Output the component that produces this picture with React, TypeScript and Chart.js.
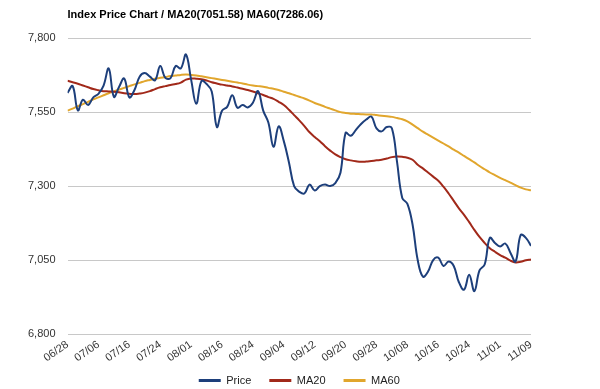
import React, { useEffect, useRef } from "react";
import { Chart, registerables } from "chart.js";

Chart.register(...registerables);

const tickLabels = ["06/28","07/06","07/16","07/24","08/01","08/16","08/24","09/04","09/12","09/20","09/28","10/08","10/16","10/24","11/01","11/09"];

const price = [7615,7638,7556,7592,7574,7600,7612,7640,7698,7602,7635,7664,7600,7625,7670,7682,7670,7658,7706,7666,7665,7706,7698,7745,7660,7578,7655,7645,7620,7500,7555,7568,7607,7565,7574,7566,7582,7621,7555,7515,7433,7502,7452,7380,7300,7281,7275,7305,7285,7300,7305,7300,7310,7345,7480,7470,7490,7510,7525,7535,7495,7485,7500,7495,7380,7260,7240,7170,7050,6994,7011,7050,7058,7030,7045,7030,6975,6950,7000,6945,7015,7035,7125,7108,7096,7106,7075,7045,7135,7125,7098];

const ma20 = [7656,7651,7646,7640,7634,7628,7624,7621,7620,7619,7617,7614,7612,7611,7613,7616,7621,7628,7634,7638,7642,7645,7650,7660,7664,7663,7661,7657,7651,7647,7643,7640,7637,7633,7629,7625,7620,7614,7608,7601,7595,7585,7574,7558,7540,7522,7503,7482,7466,7452,7435,7420,7407,7398,7391,7387,7384,7382,7383,7385,7387,7389,7393,7398,7400,7399,7396,7389,7372,7360,7346,7332,7318,7298,7275,7250,7225,7203,7178,7152,7128,7108,7090,7078,7067,7058,7048,7042,7044,7049,7052];

const ma60 = [7555,7562,7570,7577,7585,7593,7600,7607,7614,7620,7626,7632,7638,7644,7649,7655,7659,7663,7666,7669,7672,7674,7676,7677,7676,7674,7671,7668,7665,7662,7659,7656,7653,7650,7647,7643,7640,7638,7636,7632,7629,7625,7619,7614,7608,7602,7596,7589,7581,7575,7568,7562,7556,7550,7547,7545,7544,7543,7542,7542,7540,7538,7536,7534,7530,7526,7519,7508,7496,7484,7474,7464,7454,7444,7434,7423,7413,7402,7391,7380,7368,7357,7346,7337,7328,7320,7312,7303,7295,7289,7286];

const seriesNames = ["Price", "MA20", "MA60"];
const seriesColors = ["#1d3f7b", "#a1291a", "#e1a62d"];

const FONT = "'Liberation Sans', Arial, sans-serif";

const unclipXLabels = {
  id: "unclipXLabels",
  afterLayout(chart: any) {
    const s = chart.scales.x;
    if (s) s.bottom = s.top + 40;
  },
};

export default function App() {
  const ref = useRef<HTMLCanvasElement | null>(null);
  useEffect(() => {
    if (!ref.current) return;
    const all = [price, ma20, ma60];
    const chart = new Chart(ref.current, {
      type: "line",
      data: {
        datasets: all.map((arr, k) => ({
          label: seriesNames[k],
          data: arr.map((v, i) => ({ x: i, y: v })),
          borderColor: seriesColors[k],
          backgroundColor: seriesColors[k],
          borderWidth: 2,
          pointRadius: 0,
          tension: 0.4,
          fill: false,
        })),
      },
      plugins: [unclipXLabels],
      options: {
        animation: false,
        responsive: true,
        maintainAspectRatio: false,
        layout: { padding: { left: 16, right: 69, top: 0, bottom: 1 } },
        plugins: {
          title: {
            display: true,
            text: "Index Price Chart / MA20(7051.58) MA60(7286.06)",
            align: "start",
            fullSize: false,
            color: "#000",
            font: { family: FONT, size: 11, weight: "bold" },
            padding: { top: 8, bottom: 17 },
          },
          legend: {
            position: "bottom",
            fullSize: false,
            maxHeight: 31,
            labels: {
              boxWidth: 22,
              boxHeight: 3,
              padding: 18,
              color: "#222",
              font: { family: FONT, size: 11 },
              generateLabels: (c: any) => {
                const items = Chart.defaults.plugins.legend.labels.generateLabels(c);
                return items.map((it: any) => ({ ...it, lineWidth: 0, fillStyle: it.strokeStyle }));
              },
            },
          },
          tooltip: { enabled: false },
        },
        scales: {
          x: {
            type: "linear",
            min: 0,
            max: 90,
            grid: { display: false, drawTicks: false },
            border: { display: false },
            afterFit: (s: any) => { s.height = 23; },
            ticks: {
              stepSize: 6,
              autoSkip: false,
              minRotation: 35,
              maxRotation: 35,
              padding: 4,
              color: "#333",
              font: { family: FONT, size: 11 },
              callback: (v: any) => {
                const n = Number(v);
                return n % 6 === 0 ? tickLabels[n / 6] : null;
              },
            },
          },
          y: {
            min: 6800,
            max: 7800,
            grid: { color: "#c8c8c8", drawTicks: false, lineWidth: 1 },
            border: { display: false },
            ticks: {
              stepSize: 250,
              padding: 12,
              color: "#333",
              font: { family: FONT, size: 11 },
              callback: (v: any) => Number(v).toLocaleString("en-US"),
            },
          },
        },
      },
    });
    return () => chart.destroy();
  }, []);
  return (
    <div style={{ position: "fixed", left: 0, top: 0, width: 600, height: 389, background: "#fff" }}>
      <canvas ref={ref} />
    </div>
  );
}
